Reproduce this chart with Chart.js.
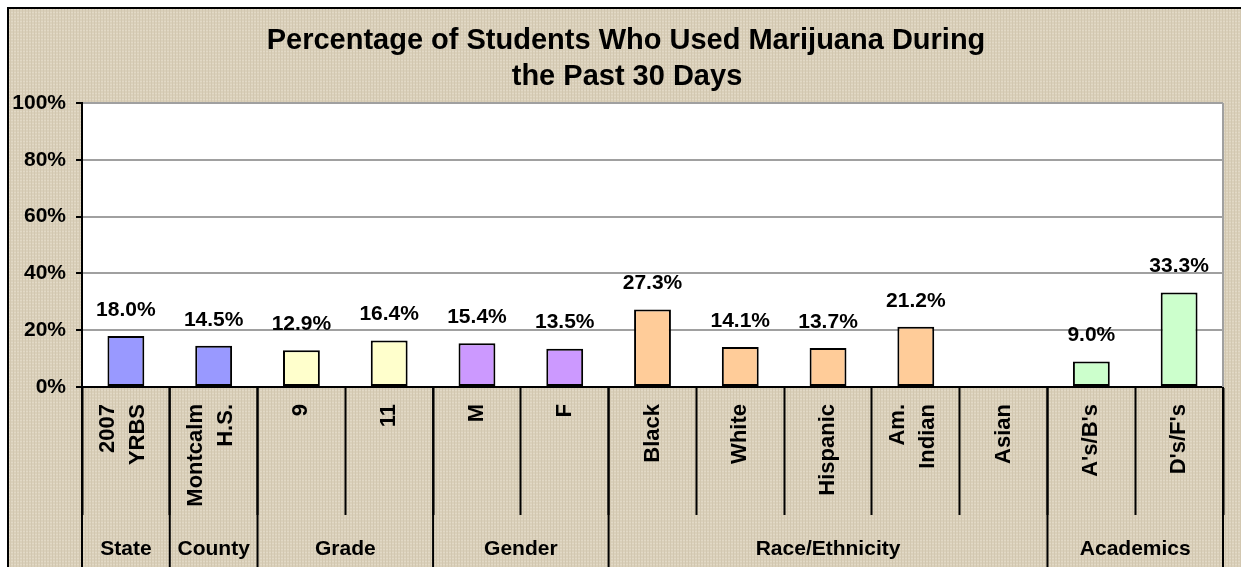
<!DOCTYPE html>
<html><head><meta charset="utf-8">
<script src="https://cdn.jsdelivr.net/npm/chart.js@4.4.1/dist/chart.umd.min.js"></script>
<style>html,body{margin:0;padding:0;background:#fff;overflow:hidden}#wrap{width:1241px;height:567px;position:relative}</style>
</head><body><div id="wrap"><canvas id="c" width="1241" height="567"></canvas></div>
<script>
const titleLines = ['Percentage of Students Who Used Marijuana During', 'the Past 30 Days'];
const categories = [['2007', 'YRBS'], ['Montcalm', 'H.S.'], '9', '11', 'M', 'F', 'Black', 'White', 'Hispanic', ['Am.', 'Indian'], 'Asian', "A's/B's", "D's/F's"];
const values = [18.0, 14.5, 12.9, 16.4, 15.4, 13.5, 27.3, 14.1, 13.7, 21.2, null, 9.0, 33.3];
const groupNames = ['State', 'County', 'Grade', 'Gender', 'Race/Ethnicity', 'Academics'];
const groupSizes = [1, 1, 2, 2, 5, 2];
const groupColors = ['#9999FF', '#9999FF', '#FFFFCC', '#CC99FF', '#FFCC99', '#CCFFCC'];
const yMin = 0, yMax = 100, yStep = 20;

const FONT = "Arial, 'Liberation Sans', sans-serif";
Chart.defaults.font.family = FONT;

const barColors = [];
groupSizes.forEach((n, g) => { for (let i = 0; i < n; i++) barColors.push(groupColors[g]); });

function makePattern(ctx) {
  const p = document.createElement('canvas');
  p.width = 6; p.height = 6;
  const c = p.getContext('2d');
  c.fillStyle = '#DAD0BA'; c.fillRect(0, 0, 6, 6);
  c.fillStyle = '#E2D9C6';
  c.fillRect(0, 0, 6, 1); c.fillRect(0, 3, 6, 1);
  c.fillStyle = '#D2C7B0';
  c.fillRect(1, 0, 1, 6); c.fillRect(4, 0, 1, 6);
  return ctx.createPattern(p, 'repeat');
}

const decor = {
  id: 'decor',
  beforeDraw(chart) {
    const ctx = chart.ctx, a = chart.chartArea;
    ctx.save();
    ctx.fillStyle = '#fff'; ctx.fillRect(0, 0, chart.width, chart.height);
    ctx.fillStyle = makePattern(ctx);
    ctx.fillRect(9, 9, chart.width - 9, chart.height - 9);
    ctx.fillStyle = '#000';
    ctx.fillRect(7, 7, chart.width - 7, 2);
    ctx.fillRect(7, 7, 2, chart.height - 7);
    ctx.fillStyle = '#fff';
    ctx.fillRect(a.left, a.top, a.right - a.left, a.bottom - a.top);
    // title
    ctx.fillStyle = '#000';
    ctx.font = 'bold 29px ' + FONT;
    ctx.textAlign = 'center'; ctx.textBaseline = 'alphabetic';
    ctx.fillText(titleLines[0], 626, 49);
    ctx.fillText(titleLines[1], 627, 85);
    ctx.restore();
  },
  beforeDatasetsDraw(chart) {
    const ctx = chart.ctx, a = chart.chartArea;
    ctx.save();
    ctx.strokeStyle = '#A0A0A0'; ctx.lineWidth = 2;
    ctx.beginPath(); ctx.moveTo(a.right, a.top); ctx.lineTo(a.right, a.bottom); ctx.stroke();
    ctx.restore();
  },
  afterDraw(chart) {
    const ctx = chart.ctx, a = chart.chartArea;
    const xs = chart.scales.x;
    const half = (xs.getPixelForValue(1) - xs.getPixelForValue(0)) / 2;
    ctx.save();
    // data labels
    const meta = chart.getDatasetMeta(0);
    ctx.fillStyle = '#000';
    ctx.font = 'bold 21px ' + FONT;
    ctx.textAlign = 'center'; ctx.textBaseline = 'middle';
    meta.data.forEach((bar, i) => {
      const v = values[i];
      if (v === null || v === undefined) return;
      ctx.fillText(v.toFixed(1) + '%', bar.x, bar.y - 26);
    });
    // category labels (rotated, reading upward)
    ctx.font = 'bold 22px ' + FONT;
    ctx.textAlign = 'right'; ctx.textBaseline = 'middle';
    categories.forEach((lab, i) => {
      const lines = Array.isArray(lab) ? lab : [lab];
      const cx = xs.getPixelForValue(i);
      lines.forEach((ln, j) => {
        const off = lines.length > 1 ? (j - (lines.length - 1) / 2) * 30 - 3 : 0;
        ctx.save();
        ctx.translate(cx + off, a.bottom + 17);
        ctx.rotate(-Math.PI / 2);
        ctx.fillText(ln, 0, 0);
        ctx.restore();
      });
    });
    // group separators and labels
    ctx.strokeStyle = '#000'; ctx.lineWidth = 2;
    let idx = 0;
    const bounds = [xs.getPixelForValue(0) - half];
    groupSizes.forEach(n => { idx += n; bounds.push(xs.getPixelForValue(idx - 1) + half); });
    bounds.forEach(b => {
      ctx.beginPath(); ctx.moveTo(b, a.bottom); ctx.lineTo(b, chart.height); ctx.stroke();
    });
    ctx.font = 'bold 21px ' + FONT;
    ctx.textAlign = 'center'; ctx.textBaseline = 'middle';
    groupNames.forEach((g, i) => {
      ctx.fillText(g, (bounds[i] + bounds[i + 1]) / 2, 549);
    });
    ctx.restore();
  }
};

new Chart(document.getElementById('c'), {
  type: 'bar',
  data: {
    labels: categories,
    datasets: [{
      data: values,
      backgroundColor: barColors,
      borderColor: '#000',
      borderWidth: 2,
      borderSkipped: false,
      barPercentage: 0.42,
      categoryPercentage: 1.0
    }]
  },
  options: {
    responsive: false,
    animation: false,
    devicePixelRatio: 1,
    layout: { padding: { top: 103, right: 18, left: 0, bottom: 0 } },
    plugins: { legend: { display: false }, tooltip: { enabled: false }, title: { display: false } },
    scales: {
      x: {
        offset: true,
        afterFit(s) { s.height = 180; },
        grid: { offset: true, drawOnChartArea: false, drawTicks: true, tickLength: 128, tickColor: '#000', tickWidth: 2, color: '#000' },
        border: { display: true, color: '#000', width: 2 },
        ticks: { display: false, autoSkip: false }
      },
      y: {
        min: yMin, max: yMax,
        afterFit(s) { s.width = 82; },
        grid: { color: '#A0A0A0', lineWidth: 2, tickColor: '#000', tickLength: 6, tickWidth: 2 },
        border: { display: true, color: '#000', width: 2 },
        ticks: {
          stepSize: yStep, padding: 10, color: '#000',
          font: { size: 21, weight: 'bold' },
          callback: v => v + '%'
        }
      }
    }
  },
  plugins: [decor]
});
</script></body></html>
